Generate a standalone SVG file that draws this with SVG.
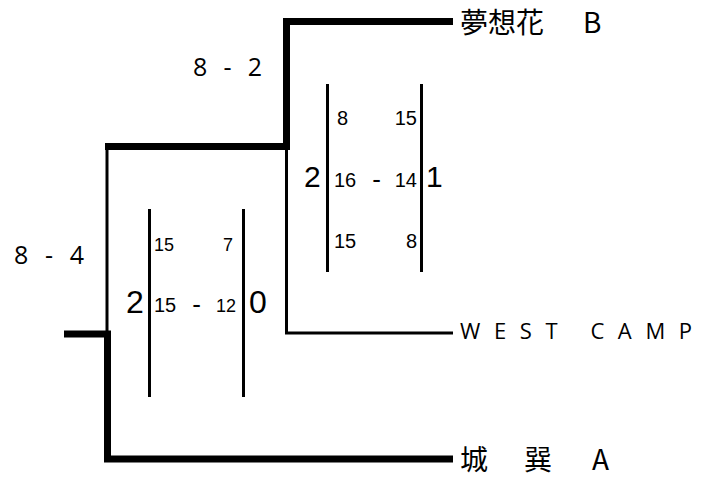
<svg xmlns="http://www.w3.org/2000/svg" width="710" height="477" viewBox="0 0 710 477">
<style>
.thick{fill:none;stroke:#000;stroke-width:7;stroke-linejoin:miter;stroke-linecap:butt}
.thin{fill:none;stroke:#000;stroke-width:3;stroke-linejoin:miter}
.bar{stroke:#000;stroke-width:3}
.sm{font-family:"Liberation Sans",Arial,sans-serif;font-size:20px;fill:#000}
.dash{font-family:"Liberation Sans",Arial,sans-serif;font-size:26px;fill:#000}
.big{font-family:"Liberation Sans",Arial,sans-serif;font-size:30px;fill:#000}
.score{font-family:"Open Sans","Noto Sans",sans-serif;font-size:25px;fill:#000}
.lbl{font-family:"Noto Sans CJK JP","Noto Sans",sans-serif;font-size:28px;fill:#000}
.west{font-family:"Open Sans","Noto Sans",sans-serif;font-size:22px;fill:#000}
</style>
<rect width="710" height="477" fill="#fff"/>
<g id="connectors">
<path class="thick" d="M453,21.5 H286.5 V146.5 H105"/>
<path class="thin" d="M107,146.5 V334"/>
<path class="thick" d="M64,334 H107.5 V459 H453"/>
<path class="thin" d="M286.5,150 V333 H453"/>
</g>
<g id="score-final">
<text class="score" x="193" y="76" textLength="69" lengthAdjust="spacing">8 - 2</text>
</g>
<g id="score-semi">
<text class="score" x="14" y="264" textLength="70" lengthAdjust="spacing">8 - 4</text>
</g>
<g id="set-final">
<line class="bar" x1="327.5" y1="84" x2="327.5" y2="272"/>
<line class="bar" x1="421.5" y1="84" x2="421.5" y2="272"/>
<text class="sm" x="337" y="125">8</text>
<text class="sm" x="417" y="125" text-anchor="end">15</text>
<text class="big" x="304" y="187">2</text>
<text class="sm" x="334" y="187">16</text>
<text class="dash" x="376.5" y="188" text-anchor="middle">-</text>
<text class="sm" x="417" y="187" text-anchor="end">14</text>
<text class="big" x="426" y="187">1</text>
<text class="sm" x="334" y="248">15</text>
<text class="sm" x="417" y="248" text-anchor="end">8</text>
</g>
<g id="set-semi">
<line class="bar" x1="149.5" y1="209" x2="149.5" y2="397"/>
<line class="bar" x1="243.5" y1="209" x2="243.5" y2="397"/>
<text class="sm" x="154" y="251" style="font-size:18px">15</text>
<text class="sm" x="233" y="251" text-anchor="end" style="font-size:18px">7</text>
<text class="big" x="126" y="313" style="font-size:32px">2</text>
<text class="sm" x="154" y="312">15</text>
<text class="dash" x="196.5" y="313" text-anchor="middle">-</text>
<text class="sm" x="236" y="312" text-anchor="end" style="font-size:18px">12</text>
<text class="big" x="249" y="313" style="font-size:32px">0</text>
</g>
<g id="node-mugenka">
<text class="lbl" y="33"><tspan x="460">夢想花</tspan><tspan x="583">B</tspan></text>
</g>
<g id="node-westcamp">
<text class="west" x="460" y="339" textLength="232" lengthAdjust="spacing">WEST CAMP</text>
</g>
<g id="node-shiromi">
<text class="lbl" y="470"><tspan x="460">城</tspan><tspan x="524">巽</tspan><tspan x="592">A</tspan></text>
</g>
</svg>
